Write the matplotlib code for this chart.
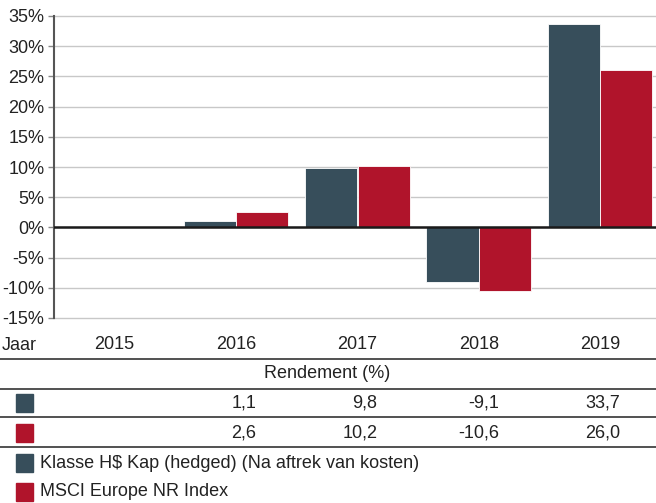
import numpy as np
import matplotlib
matplotlib.use('Agg')
import matplotlib.pyplot as plt
from matplotlib import transforms
from matplotlib.patches import Rectangle

plt.rcParams['font.family'] = ['Liberation Sans', 'DejaVu Sans']

# data
years = ['2015', '2016', '2017', '2018', '2019']
fund = [np.nan, 1.1, 9.8, -9.1, 33.7]
index = [np.nan, 2.6, 10.2, -10.6, 26.0]
fund_txt = ['', '1,1', '9,8', '-9,1', '33,7']
index_txt = ['', '2,6', '10,2', '-10,6', '26,0']
legend_labels = ['Klasse H$ Kap (hedged) (Na aftrek van kosten)', 'MSCI Europe NR Index']

c_fund = '#374e5b'
c_index = '#b0142b'
fs = 13

W, H = 656, 503
fig = plt.figure(figsize=(W / 100, H / 100), dpi=100)
ax = fig.add_axes([54 / W, 1 - 318 / H, 1 - 54 / W, (318 - 16) / H])

x = np.arange(len(years))
bw = 0.43
ax.bar(x - 0.216, fund, bw, color=c_fund, edgecolor='white', linewidth=0.6, zorder=3)
ax.bar(x + 0.216, index, bw, color=c_index, edgecolor='white', linewidth=0.6, zorder=3)

ax.set_xlim(-0.5, 4.46)
ax.set_ylim(-15, 35)
ax.set_yticks(np.arange(-15, 36, 5))
ax.set_yticklabels([f'{v}%' for v in range(-15, 36, 5)], fontsize=fs, color='#222222')
ax.yaxis.grid(True, color='#c8c8c8', linewidth=1.0, zorder=0)
for gl in ax.get_ygridlines():
    gl.set_clip_on(False)
ax.axhline(0, color='#1a1a1a', linewidth=1.8, zorder=4)
ax.tick_params(axis='y', length=4, width=1, color='#888888', pad=3)
ax.set_xticks(x)
ax.set_xticklabels(years, fontsize=fs, color='#222222')
ax.tick_params(axis='x', length=0, pad=13)
for s in ['top', 'right', 'bottom']:
    ax.spines[s].set_visible(False)
ax.spines['left'].set_color('#555555')
ax.spines['left'].set_linewidth(1.5)

# overlay in pixel coords for the table
ov = fig.add_axes([0, 0, 1, 1], zorder=-1)
ov.set_xlim(0, W)
ov.set_ylim(H, 0)
ov.axis('off')

ov.text(2, 346, 'Jaar', fontsize=fs, va='center', ha='left', color='#222222')
for yl in [359, 389, 417, 447]:
    ov.plot([0, W], [yl, yl], color='#333333', linewidth=1.2)

blend = transforms.blended_transform_factory(ax.transData, ov.transData)
ov.text(1.75, 374, 'Rendement (%)', transform=blend,
        fontsize=fs, ha='center', va='center', color='#222222')
for xi, t in zip(x, fund_txt):
    ov.text(xi + 0.165, 403, t, transform=blend, fontsize=fs, ha='right', va='center', color='#222222')
for xi, t in zip(x, index_txt):
    ov.text(xi + 0.165, 433, t, transform=blend, fontsize=fs, ha='right', va='center', color='#222222')

for yc, c in [(403, c_fund), (433, c_index), (463, c_fund), (492, c_index)]:
    ov.add_patch(Rectangle((16, yc - 9), 17, 18, color=c))
for yc, lab in zip([463, 492], legend_labels):
    ov.text(40, yc, lab, fontsize=fs, ha='left', va='center', color='#222222')

fig.savefig('out.png', dpi=100)
